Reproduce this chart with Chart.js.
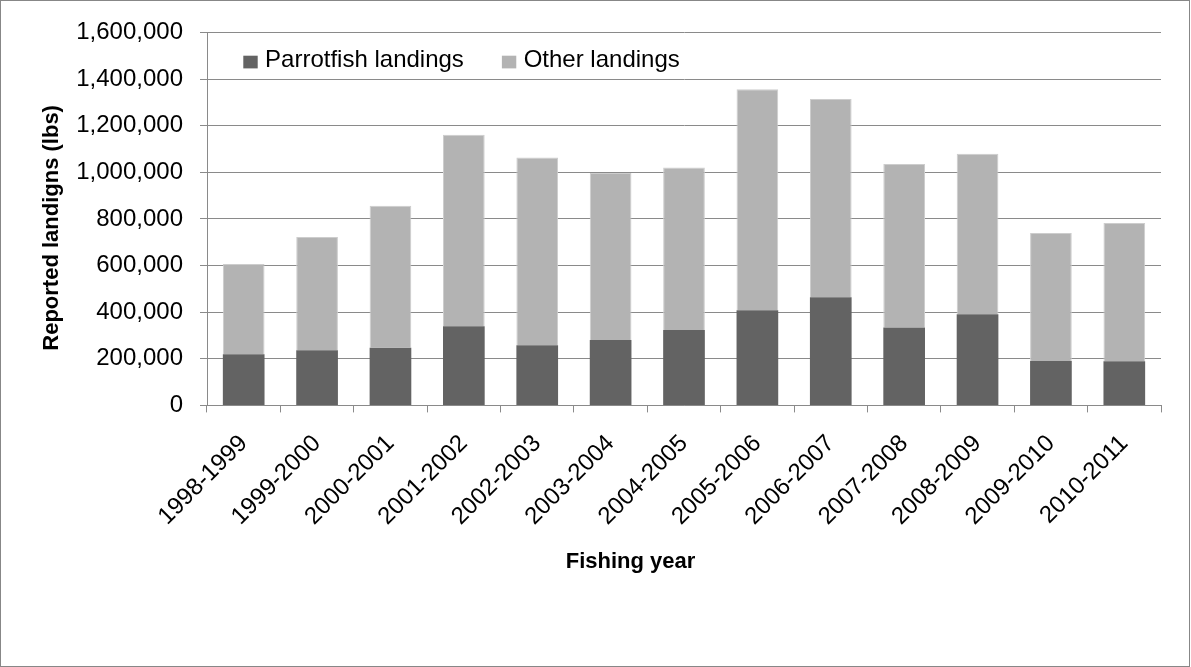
<!DOCTYPE html>
<html>
<head>
<meta charset="utf-8">
<script src="https://cdn.jsdelivr.net/npm/chart.js@4.4.1/dist/chart.umd.min.js"></script>
<style>
  html, body { margin: 0; padding: 0; background: #ffffff; }
  #wrap { position: absolute; left: 0; top: 0; width: 1188px; height: 665px; border: 1px solid #878787; background: #fff; }
  canvas { display: block; }
</style>
</head>
<body>
<div id="wrap"><canvas id="c" width="1188" height="665"></canvas></div>
<script>
const categories = ['1998-1999','1999-2000','2000-2001','2001-2002','2002-2003','2003-2004','2004-2005','2005-2006','2006-2007','2007-2008','2008-2009','2009-2010','2010-2011'];
const parrotfishLandings = [219000, 237000, 247000, 340000, 258000, 281000, 323000, 408000, 464000, 334000, 391000, 190000, 189000];
const otherLandings = [388000, 485000, 609000, 821000, 805000, 716000, 698000, 948000, 850000, 702000, 688000, 549000, 593000];
const yTicks = [0, 200000, 400000, 600000, 800000, 1000000, 1200000, 1400000, 1600000];
const seriesNames = ['Parrotfish landings', 'Other landings'];
const xTitle = 'Fishing year';
const yTitle = 'Reported landigns (lbs)';

const FONT = '"Liberation Sans", Arial, sans-serif';
const GRID = '#8a8a8a';

// Legend drawn inside the plot area, top-left (as in the reference)
const insideLegend = {
  id: 'insideLegend',
  afterDraw(chart) {
    const ctx = chart.ctx;
    const ca = chart.chartArea;
    ctx.save();
    ctx.font = '24px ' + FONT;
    ctx.textBaseline = 'middle';
    ctx.textAlign = 'left';
    let x = ca.left + 36.3;
    const yMid = ca.top + 27.6;
    chart.data.datasets.forEach((ds) => {
      ctx.fillStyle = ds.backgroundColor;
      ctx.fillRect(x, yMid - 4.3, 14.4, 12.7);
      ctx.fillStyle = '#000';
      const tx = x + 14.4 + 7.4;
      ctx.fillText(ds.label, tx, yMid);
      x = tx + ctx.measureText(ds.label).width + 38;
    });
    ctx.restore();
  }
};

const titleTweaks = {
  id: 'titleTweaks',
  afterLayout(chart) {
    const xs = chart.scales.x, ys = chart.scales.y;
    if (xs && !xs.__wrapped) {
      const f = xs.drawTitle;
      xs.drawTitle = function () { const r = this.right; this.right = r - 107; f.call(this); this.right = r; };
      xs.__wrapped = true;
    }
    if (ys && !ys.__wrapped) {
      const g = ys.drawTitle;
      ys.drawTitle = function () { const t = this.top; this.top = t + 18; g.call(this); this.top = t; };
      ys.__wrapped = true;
    }
  }
};

new Chart(document.getElementById('c'), {
  type: 'bar',
  data: {
    labels: categories,
    datasets: [
      { label: seriesNames[0], data: parrotfishLandings, backgroundColor: '#636363', borderWidth: 0, barPercentage: 0.568, categoryPercentage: 1.0 },
      { label: seriesNames[1], data: otherLandings, backgroundColor: '#b3b3b3', borderColor: '#cdcdcd', borderWidth: 1, borderSkipped: 'bottom', barPercentage: 0.568, categoryPercentage: 1.0 }
    ]
  },
  options: {
    responsive: false,
    animation: false,
    devicePixelRatio: 1,
    layout: { padding: { left: 0, right: 28, top: 30.7, bottom: 0 } },
    plugins: {
      legend: { display: false },
      tooltip: { enabled: false },
      title: { display: false }
    },
    scales: {
      x: {
        stacked: true,
        grid: { display: true, drawOnChartArea: false, drawTicks: true, tickLength: 7, color: GRID, offset: true },
        border: { display: true, color: GRID, width: 1 },
        ticks: { color: '#000', font: { family: FONT, size: 24 }, minRotation: 45, maxRotation: 45, autoSkip: false, padding: 17 },
        title: { display: true, text: xTitle, color: '#000', font: { family: FONT, size: 22, weight: 'bold' }, padding: { top: 0, bottom: 91.3 } },
        afterFit(scale) { scale.height = 260.6; }
      },
      y: {
        stacked: true,
        min: 0,
        max: 1600000,
        afterBuildTicks(scale) { scale.ticks = yTicks.map(v => ({ value: v })); },
        grid: { color: GRID, lineWidth: 1, drawTicks: true, tickLength: 7 },
        border: { display: true, color: GRID, width: 1 },
        ticks: { color: '#000', font: { family: FONT, size: 24 }, padding: 17, callback: v => Number(v).toLocaleString('en-US') },
        title: { display: true, text: yTitle, color: '#000', font: { family: FONT, size: 22, weight: 'bold' }, padding: { top: 37.5, bottom: 0 } },
        afterFit(scale) { scale.width = 206; }
      }
    }
  },
  plugins: [titleTweaks, insideLegend]
});
</script>
</body>
</html>
